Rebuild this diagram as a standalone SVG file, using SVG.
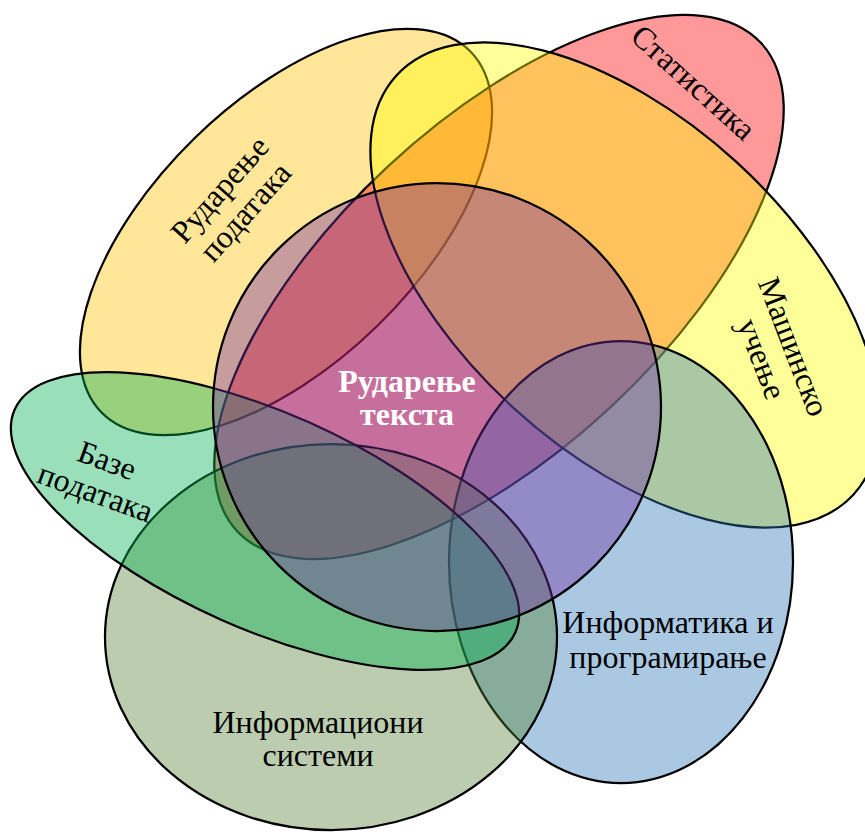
<svg xmlns="http://www.w3.org/2000/svg" width="865" height="832" viewBox="0 0 865 832">
<style>
.sh{stroke:#000;stroke-width:2.25;fill-opacity:0.4}
.lb{font-family:"Liberation Serif","Times New Roman","Noto Sans CJK SC",serif;font-size:32px;fill:#000;text-anchor:middle}
.ct{font-family:"Liberation Serif","Times New Roman","Noto Sans CJK SC",serif;font-size:32px;font-weight:bold;fill:#fff;text-anchor:middle}
</style>
<rect width="865" height="832" fill="#fff"/>
<g id="rudarenje-podataka">
<ellipse class="sh" fill="#FFC000" cx="286" cy="232" rx="258" ry="131" transform="rotate(-44.3 286 232)"/>
<text class="lb" transform="translate(233,201) rotate(-48.5)"><tspan x="0" y="-7">Рударење</tspan><tspan x="0" y="27">података</tspan></text>
</g>
<g id="statistika">
<ellipse class="sh" fill="#FF0000" cx="499" cy="287" rx="358" ry="164" transform="rotate(-43 499 287)"/>
<text class="lb" transform="translate(693,83) rotate(42)" y="10">Статистика</text>
</g>
<g id="masinsko-ucenje">
<ellipse class="sh" fill="#FFFF00" cx="625" cy="285" rx="310" ry="166" transform="rotate(42.5 625 285)"/>
<text class="lb" transform="translate(777,353) rotate(69)"><tspan x="0" y="-7">Машинско</tspan><tspan x="0" y="27">учење</tspan></text>
</g>
<g id="informatika-i-programiranje">
<ellipse class="sh" fill="#2E75B6" cx="621" cy="562" rx="172" ry="221"/>
<text class="lb"><tspan x="668" y="633">Информатика и</tspan><tspan x="668" y="668">програмирање</tspan></text>
</g>
<g id="informacioni-sistemi">
<ellipse class="sh" fill="#548235" cx="331" cy="637" rx="226" ry="193"/>
<text class="lb"><tspan x="318" y="733">Информациони</tspan><tspan x="318" y="766">системи</tspan></text>
</g>
<g id="baze-podataka">
<ellipse class="sh" fill="#00B050" cx="265" cy="521" rx="274" ry="108" transform="rotate(24 265 521)"/>
<text class="lb" transform="translate(101,477) rotate(20)"><tspan x="0" y="-7">Базе</tspan><tspan x="0" y="27">података</tspan></text>
</g>
<g id="rudarenje-teksta">
<circle class="sh" fill="#7030A0" cx="437" cy="407" r="224"/>
<text class="ct"><tspan x="407" y="392">Рударење</tspan><tspan x="407" y="425">текста</tspan></text>
</g>
</svg>
